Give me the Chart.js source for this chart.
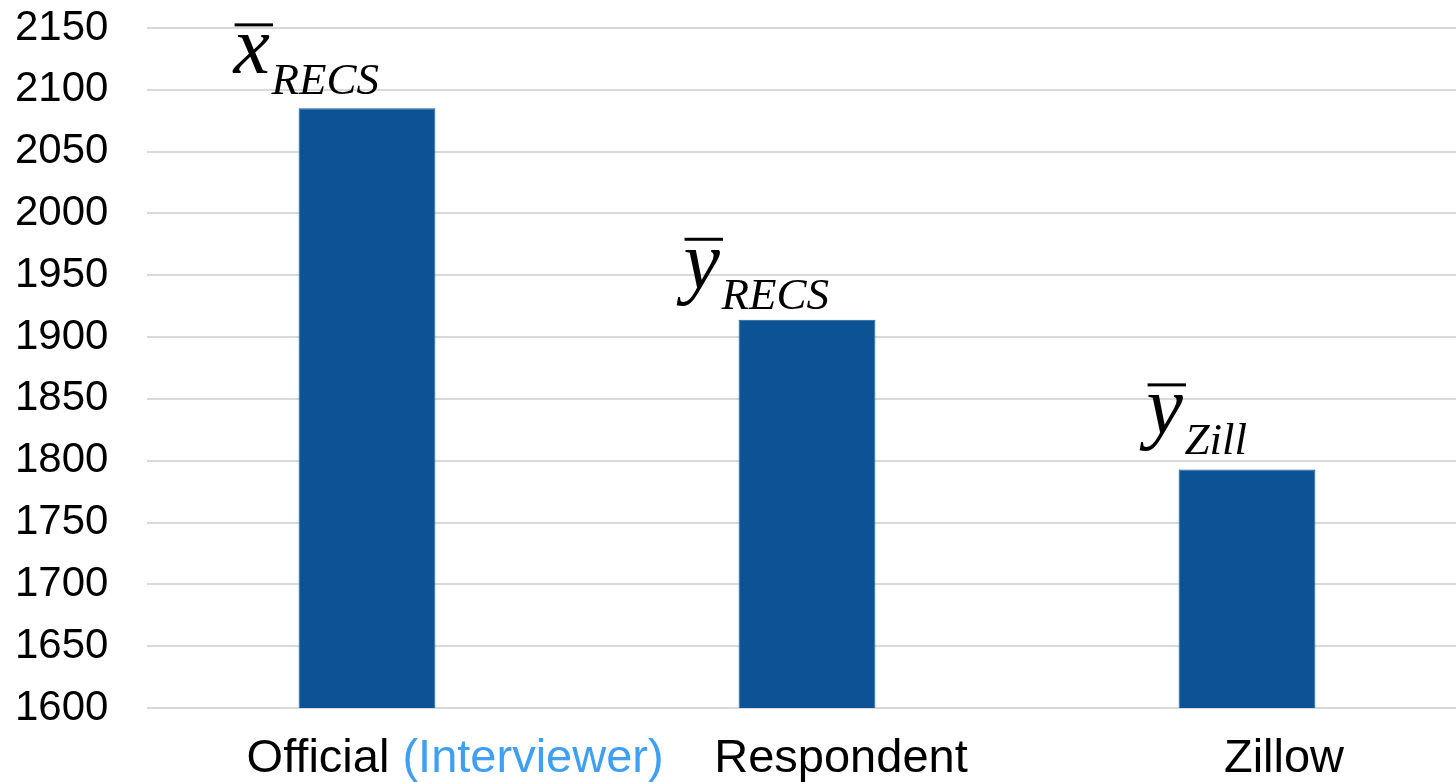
<!DOCTYPE html>
<html>
<head>
<meta charset="utf-8">
<script src="https://cdn.jsdelivr.net/npm/chart.js@4.4.1/dist/chart.umd.min.js"></script>
<style>
    html, body { margin: 0; padding: 0; background: #fff; overflow: hidden; }
    #wrap { width: 1467px; height: 782px; position: relative; }
</style>
</head>
<body>
<div id="wrap"><canvas id="chart1"></canvas></div>
<script>
// data
const categories = ['Official', 'Respondent', 'Zillow'];
const categoryNotes = [' (Interviewer)', '', ''];
const values = [2085, 1914, 1793];
const symbols = ['x', 'y', 'y'];
const subscripts = ['RECS', 'RECS', 'Zill'];
const yMin = 1600;
const yMax = 2150;
const yStep = 50;

// labels above the bars: x̄ / ȳ with an italic subscript
const barSymbols = {
    id: 'barSymbols',
    afterDatasetsDraw(chart, args, opts) {
        const c = chart.ctx;
        const meta = chart.getDatasetMeta(0);
        c.save();
        c.fillStyle = '#000';
        c.textBaseline = 'alphabetic';
        c.textAlign = 'left';
        meta.data.forEach((bar, i) => {
            const left = bar.x - bar.width / 2;
            const x0 = left + opts.dx[i];
            const base = bar.y + opts.dy[i];
            c.font = 'italic 82px "Liberation Serif", "Times New Roman", serif';
            c.fillText(symbols[i], x0, base);
            const w = c.measureText(symbols[i]).width;
            c.fillRect(x0 + 1, base - 50, w + 2, 3); // overbar
            c.font = 'italic 45px "Liberation Serif", "Times New Roman", serif';
            c.fillText(subscripts[i], x0 + 38, base + 21);
        });
        c.restore();
    }
};

// category labels, the note part in light blue
const xLabels = {
    id: 'xLabels',
    afterDraw(chart, args, opts) {
        const c = chart.ctx;
        const xScale = chart.scales.x;
        const y = chart.chartArea.bottom + 64;
        c.save();
        c.font = '47px "Liberation Sans", Arial, sans-serif';
        c.textBaseline = 'alphabetic';
        c.textAlign = 'left';
        categories.forEach((name, i) => {
            const w = c.measureText(name).width;
            const cx = xScale.getPixelForTick(i) + opts.dx[i];
            const x0 = cx - w / 2;
            c.fillStyle = '#000';
            c.fillText(name, x0, y);
            if (categoryNotes[i]) {
                c.fillStyle = '#3f9ff3';
                c.fillText(categoryNotes[i], x0 + w, y);
            }
        });
        c.restore();
    }
};

const ctx = document.getElementById('chart1').getContext('2d');
const chart1 = new Chart(ctx, {
    type: 'bar',
    data: {
        labels: categories,
        datasets: [{
            data: values,
            backgroundColor: '#0c5396',
            borderColor: '#1a5e9c',
            borderWidth: 1,
            barPercentage: 0.311,
            categoryPercentage: 1
        }]
    },
    options: {
        responsive: true,
        maintainAspectRatio: false,
        animation: false,
        layout: {
            padding: { left: 15, top: 28, right: 0, bottom: 74 }
        },
        plugins: {
            legend: { display: false },
            tooltip: { enabled: false },
            barSymbols: { dx: [-65, -55, -32], dy: [-35, -32, -36] },
            xLabels: { dx: [-49, 34, 37] }
        },
        scales: {
            x: {
                grid: { display: false, drawTicks: false },
                border: { display: false },
                ticks: { display: false }
            },
            y: {
                min: yMin,
                max: yMax,
                afterFit: scale => { scale.width = 132; },
                ticks: {
                    stepSize: yStep,
                    padding: 0,
                    crossAlign: 'far',
                    color: '#000',
                    callback: v => String(v),
                    font: { family: '"Liberation Sans", Arial, sans-serif', size: 42 }
                },
                grid: {
                    color: '#d9d9d9',
                    lineWidth: 2,
                    drawTicks: false
                },
                border: { display: false }
            }
        }
    },
    plugins: [barSymbols, xLabels]
});
</script>
</body>
</html>
